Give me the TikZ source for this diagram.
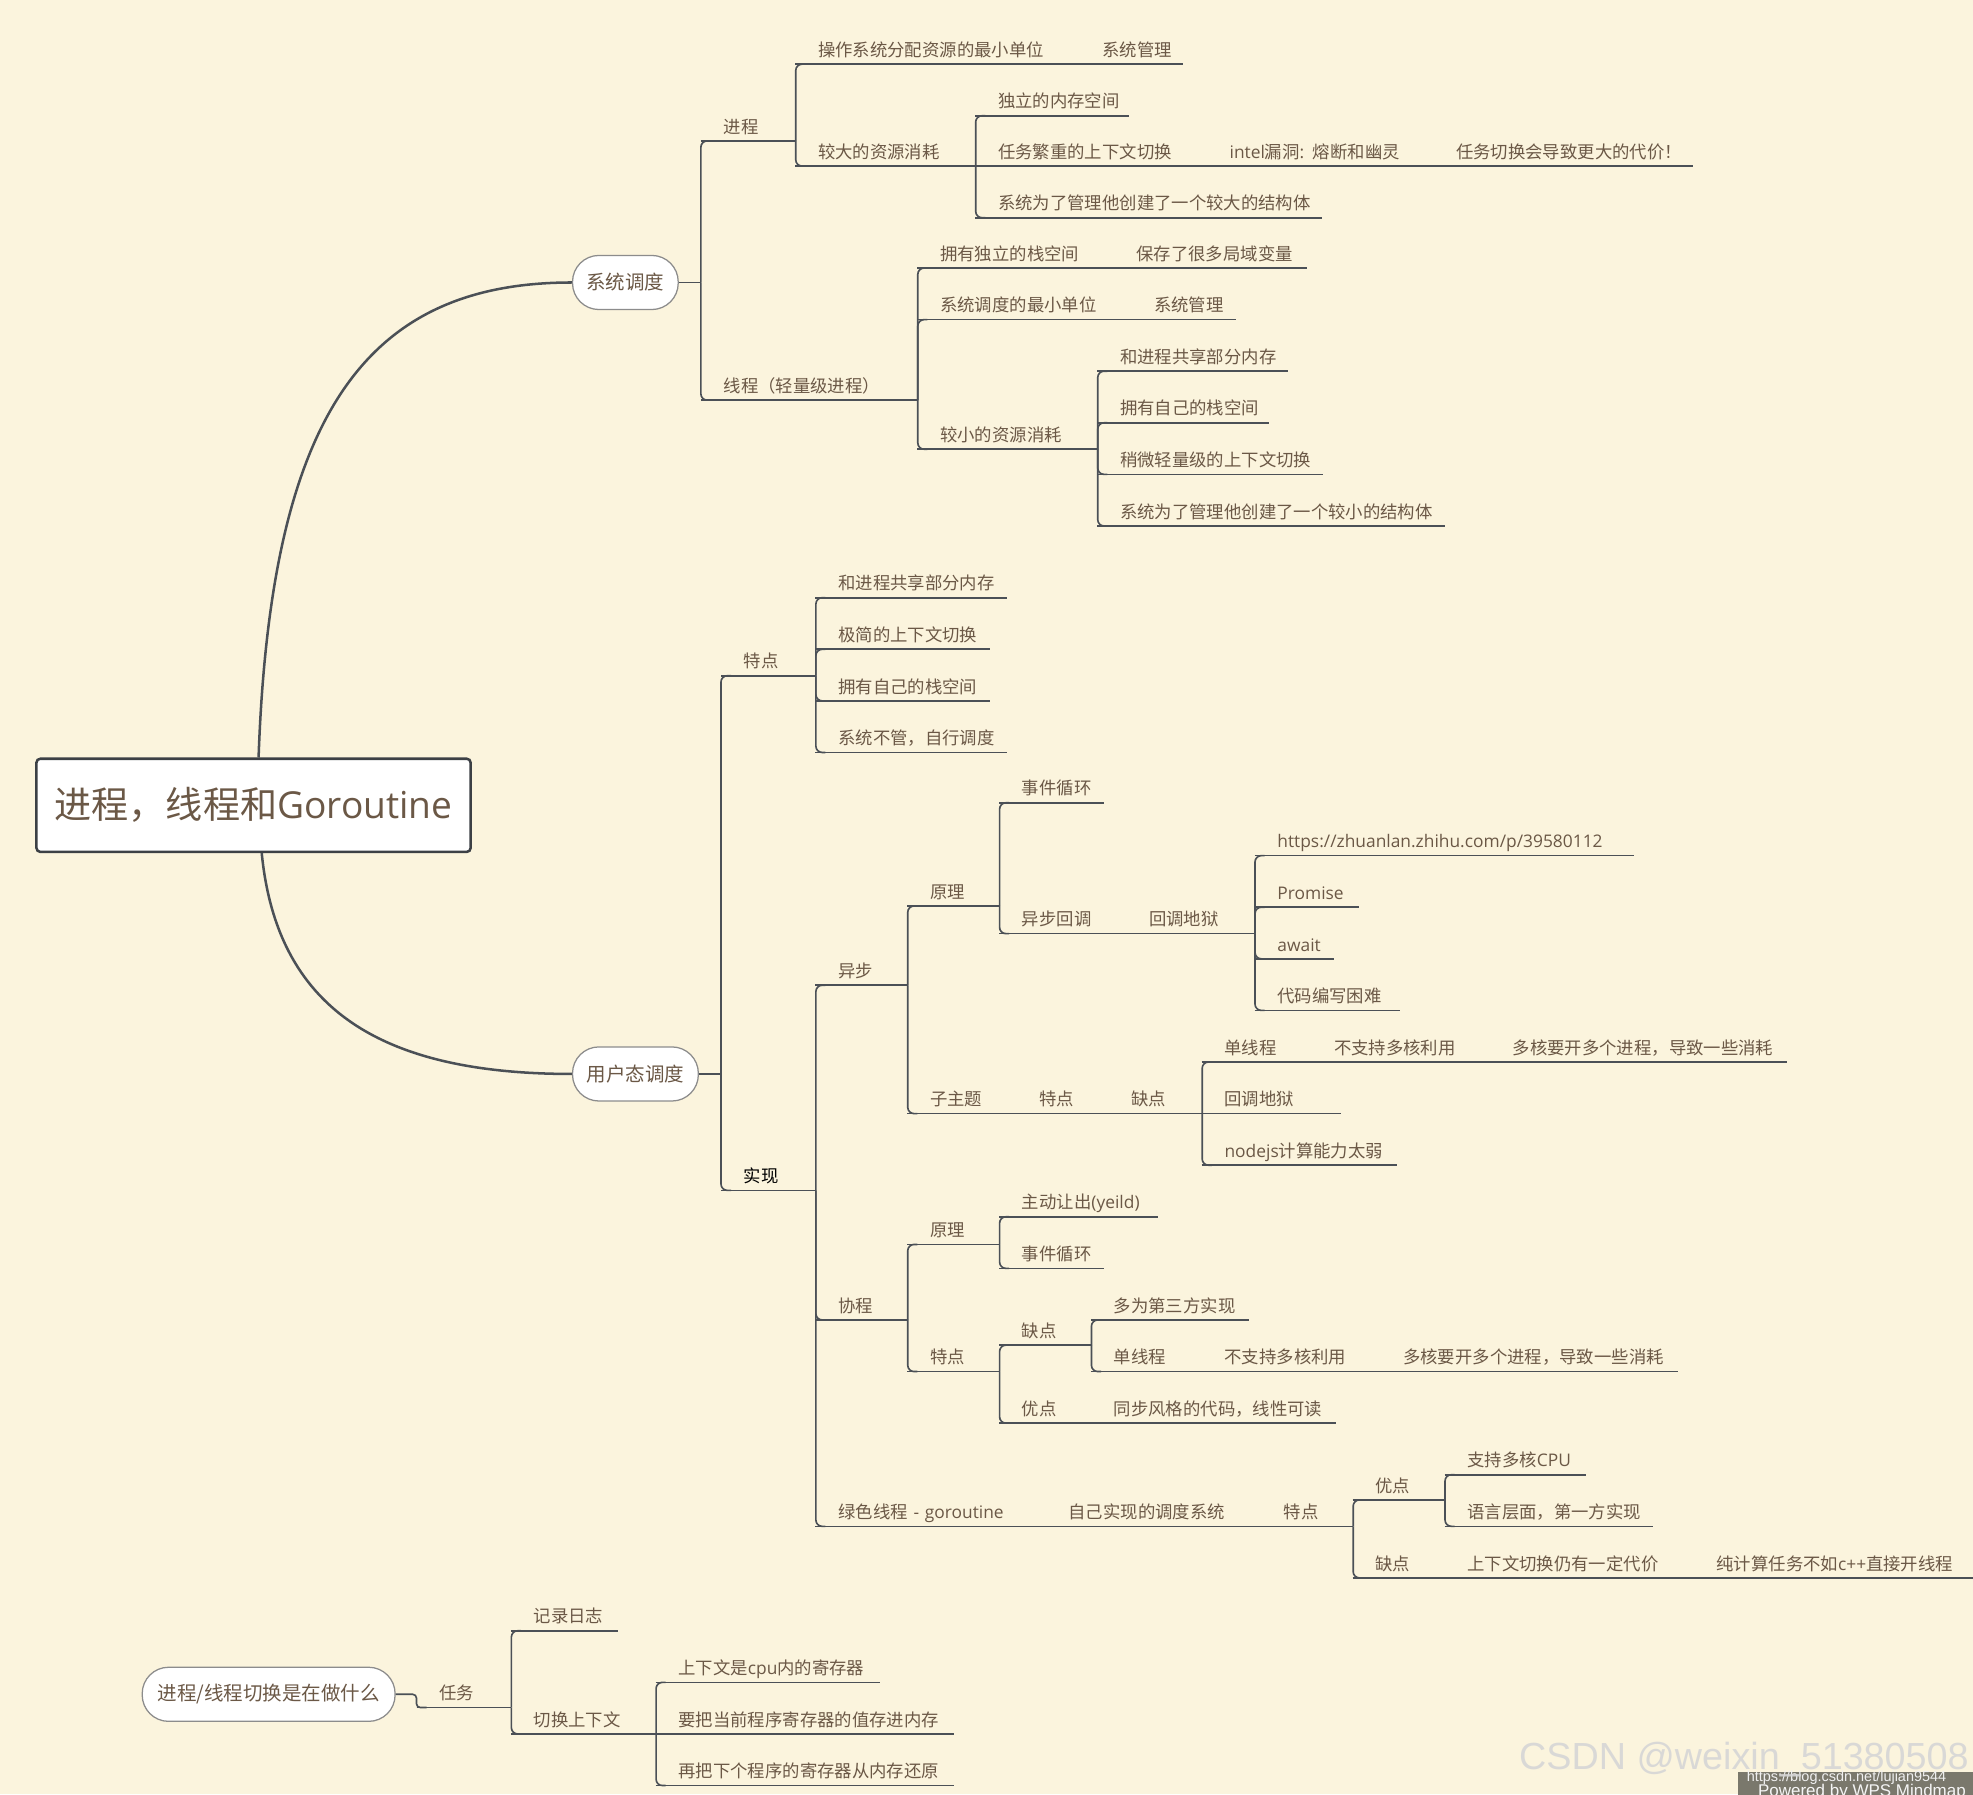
\documentclass[tikz,border=0pt]{standalone}
\usepackage{fontspec}
\setmainfont{Noto Sans CJK SC}
\newfontfamily\latin{Open Sans}
\newfontfamily\wmfont{Liberation Sans}
\usetikzlibrary{calc}
\definecolor{paper}{HTML}{FBF4DD}
\definecolor{ink}{HTML}{6B5846}
\definecolor{wire}{HTML}{4B5056}
\definecolor{rim}{HTML}{8C8C8C}
\definecolor{boxc}{HTML}{7A786C}

\begin{document}
\begin{tikzpicture}[x=1pt,y=-1pt]
  \tikzset{
    link/.style={draw=wire,line width=1.3pt,rounded corners=5pt},
    curve/.style={draw=wire,line width=2pt},
    topic/.style={anchor=south west,inner xsep=0pt,inner ysep=3pt,text width=#1,align=left,
      text height=10pt,text depth=3pt,font=\fontsize{13.8}{16}\selectfont,text=ink,
      execute at begin node={\hspace*{18pt}}},
    pill/.style={draw=rim,line width=1pt,fill=white,rounded corners=21pt,minimum height=43pt,
      minimum width=#1,inner sep=0pt,font=\fontsize{15.5}{18}\selectfont,text=ink},
    rootbox/.style={draw=wire!80!black,line width=2pt,fill=white,rounded corners=3pt,
      minimum width=345pt,minimum height=74pt,inner sep=0pt,font=\fontsize{29.5}{34}\selectfont,text=ink}
  }
  \fill[paper] (0,0) rectangle (1568,1426);
  \useasboundingbox (0,0) rectangle (1568,1426);

  \node[rootbox] (root) at (201.5,640) {进程，线程和{\latin Goroutine}};
  \node[pill=84pt] (sys) at (497,224.5) {系统调度};
  \node[pill=100pt] (usr) at (505,853.5) {用户态调度};
  \node[pill=201pt] (q) at (213.5,1346.5) {进程/线程切换是在做什么};

  \draw[curve] ([xshift=4pt]root.north) .. controls (215,330) and (290,224.5) .. (sys.west);
  \draw[curve] ([xshift=6.5pt]root.south) .. controls (220,800) and (300,853.5) .. (usr.west);

  % 系统调度
  \node[topic=75] (jc) at (557,112) {进程};
  \node[topic=172] (xc) at (557,318) {线程（轻量级进程）};
  \node[topic=226] (jc1) at (632,51) {操作系统分配资源的最小单位};
  \node[topic=82] (jc1a) at (858,51) {系统管理};
  \node[topic=143] (jc2) at (632,132) {较大的资源消耗};
  \node[topic=122] (jc21) at (775,92) {独立的内存空间};
  \node[topic=184] (jc22) at (775,132) {任务繁重的上下文切换};
  \node[topic=180] (jc22a) at (959,132) {{\latin intel}漏洞{\latin :} 熔断和幽灵};
  \node[topic=206] (jc22b) at (1139,132) {任务切换会导致更大的代价！};
  \node[topic=275] (jc23) at (775,173) {系统为了管理他创建了一个较大的结构体};
  \node[topic=156] (xc1) at (729,213) {拥有独立的栈空间};
  \node[topic=153] (xc1a) at (885,213) {保存了很多局域变量};
  \node[topic=170] (xc2) at (729,254) {系统调度的最小单位};
  \node[topic=83] (xc2a) at (899,254) {系统管理};
  \node[topic=143] (xc3) at (729,357) {较小的资源消耗};
  \node[topic=151] (xc31) at (872,295) {和进程共享部分内存};
  \node[topic=136] (xc32) at (872,336) {拥有自己的栈空间};
  \node[topic=179] (xc33) at (872,377) {稍微轻量级的上下文切换};
  \node[topic=276] (xc34) at (872,418) {系统为了管理他创建了一个较小的结构体};

  % 用户态调度
  \node[topic=75] (td) at (573,537) {特点};
  \node[topic=75,text=black] (sx) at (573,946) {实现};
  \node[topic=152] (td1) at (648,475) {和进程共享部分内存};
  \node[topic=138] (td2) at (648,516) {极简的上下文切换};
  \node[topic=138] (td3) at (648,557) {拥有自己的栈空间};
  \node[topic=152] (td4) at (648,598) {系统不管，自行调度};
  \node[topic=73] (yb) at (648,783) {异步};
  \node[topic=73] (xe) at (648,1049) {协程};
  \node[topic=183] (lx) at (648,1213) {绿色线程{\latin\ - goroutine}};
  \node[topic=171] (lx1) at (831,1213) {自己实现的调度系统};
  \node[topic=73] (lx2) at (1002,1213) {特点};
  \node[topic=73] (yb1) at (721,720) {原理};
  \node[topic=87] (yb2) at (721,885) {子主题};
  \node[topic=73] (yb2a) at (808,885) {特点};
  \node[topic=74] (yb2b) at (881,885) {缺点};
  \node[topic=83] (yb11) at (794,638) {事件循环};
  \node[topic=101] (yb12) at (794,742) {异步回调};
  \node[topic=102] (yb12a) at (895,742) {回调地狱};
  \node[topic=301] (hd1) at (997,680) {\latin https://zhuanlan.zhihu.com/p/39580112};
  \node[topic=83] (hd2) at (997,721) {\latin Promise};
  \node[topic=63] (hd3) at (997,762) {\latin await};
  \node[topic=115] (hd4) at (997,803) {代码编写困难};
  \node[topic=87] (qd1) at (955,844) {单线程};
  \node[topic=142] (qd1a) at (1042,844) {不支持多核利用};
  \node[topic=236] (qd1b) at (1184,844) {多核要开多个进程，导致一些消耗};
  \node[topic=110] (qd2) at (955,885) {回调地狱};
  \node[topic=155] (qd3) at (955,926) {{\latin nodejs}计算能力太弱};
  \node[topic=73] (xe1) at (721,989) {原理};
  \node[topic=73] (xe2) at (721,1090) {特点};
  \node[topic=126] (xe11) at (794,967) {主动让出{\latin (yeild)}};
  \node[topic=83] (xe12) at (794,1008) {事件循环};
  \node[topic=73] (xe21) at (794,1069) {缺点};
  \node[topic=73] (xe22) at (794,1131) {优点};
  \node[topic=194] (xe22a) at (867,1131) {同步风格的代码，线性可读};
  \node[topic=125] (xe211) at (867,1049) {多为第三方实现};
  \node[topic=88] (xe212) at (867,1090) {单线程};
  \node[topic=142] (xe212a) at (955,1090) {不支持多核利用};
  \node[topic=236] (xe212b) at (1097,1090) {多核要开多个进程，导致一些消耗};
  \node[topic=73] (lx21) at (1075,1192) {优点};
  \node[topic=73] (lx22) at (1075,1254) {缺点};
  \node[topic=198] (lx22a) at (1148,1254) {上下文切换仍有一定代价};
  \node[topic=222] (lx22b) at (1346,1254) {纯计算任务不如{\latin c++}直接开线程};
  \node[topic=112] (lx211) at (1148,1172) {支持多核{\latin CPU}};
  \node[topic=165] (lx212) at (1148,1213) {语言层面，第一方实现};

  % 进程/线程切换
  \node[topic=75] (rw) at (331,1357) {任务};
  \node[topic=85] (rw1) at (406,1296) {记录日志};
  \node[topic=115] (rw2) at (406,1378) {切换上下文};
  \node[topic=178] (rw21) at (521,1337) {上下文是{\latin cpu}内的寄存器};
  \node[topic=237] (rw22) at (521,1378) {要把当前程序寄存器的值存进内存};
  \node[topic=237] (rw23) at (521,1419) {再把下个程序的寄存器从内存还原};

  % underlines
  \foreach \n in {jc,xc,jc1,jc1a,jc2,jc21,jc22,jc22a,jc22b,jc23,xc1,xc1a,xc2,xc2a,xc3,xc31,xc32,xc33,xc34,
    td,sx,td1,td2,td3,td4,yb,xe,lx,lx1,lx2,yb1,yb2,yb2a,yb2b,yb11,yb12,yb12a,hd1,hd2,hd3,hd4,
    qd1,qd1a,qd1b,qd2,qd3,xe1,xe2,xe11,xe12,xe21,xe22,xe22a,xe211,xe212,xe212a,xe212b,
    lx21,lx22,lx22a,lx22b,lx211,lx212,rw,rw1,rw2,rw21,rw22,rw23}
    \draw[link] (\n.south west) -- (\n.south east);

  % branches
  \draw[link] (sys.east) -- (sys.east -| jc.south west);
  \foreach \ch in {jc,xc}
    \draw[link] (sys.east -| \ch.south west) |- ([xshift=8pt]\ch.south west);
  \draw[link] (usr.east) -- (usr.east -| td.south west);
  \foreach \ch in {td,sx}
    \draw[link] (usr.east -| \ch.south west) |- ([xshift=8pt]\ch.south west);
  \draw[link,rounded corners=3pt] (q.east) -| (rw.south west) -- ([xshift=8pt]rw.south west);
  \foreach \pa/\ch in {jc/jc1,jc/jc2,jc2/jc21,jc2/jc23,xc/xc1,xc/xc2,xc/xc3,
    xc3/xc31,xc3/xc32,xc3/xc33,xc3/xc34,td/td1,td/td2,td/td3,td/td4,
    sx/yb,sx/xe,sx/lx,yb/yb1,yb/yb2,yb1/yb11,yb1/yb12,
    yb12a/hd1,yb12a/hd2,yb12a/hd3,yb12a/hd4,yb2b/qd1,yb2b/qd3,
    xe/xe1,xe/xe2,xe1/xe11,xe1/xe12,xe2/xe21,xe2/xe22,xe21/xe211,xe21/xe212,
    lx2/lx21,lx2/lx22,lx21/lx211,lx21/lx212,rw/rw1,rw/rw2,rw2/rw21,rw2/rw23}
    \draw[link] (\pa.south east) |- ([xshift=8pt]\ch.south west);

  % watermark
  \fill[boxc] (1381,1408) rectangle (1570,1430);
  \node[font=\wmfont\fontsize{11.5}{13}\selectfont,text=white!88!gray,anchor=west,inner sep=0pt] (wm1) at (1388,1413) {https://blog.csdn.net/lujian9544};
  \node[font=\wmfont\fontsize{13.5}{15}\selectfont,text=white!92!gray,anchor=west,inner sep=0pt] (wm2) at (1397,1424) {Powered by WPS Mindmap};
  \node[font=\wmfont\fontsize{30}{34}\selectfont,text=gray!32,opacity=.9,inner sep=0pt] (wm) at (1386,1398) {CSDN @weixin\_51380508};
\end{tikzpicture}
\end{document}
